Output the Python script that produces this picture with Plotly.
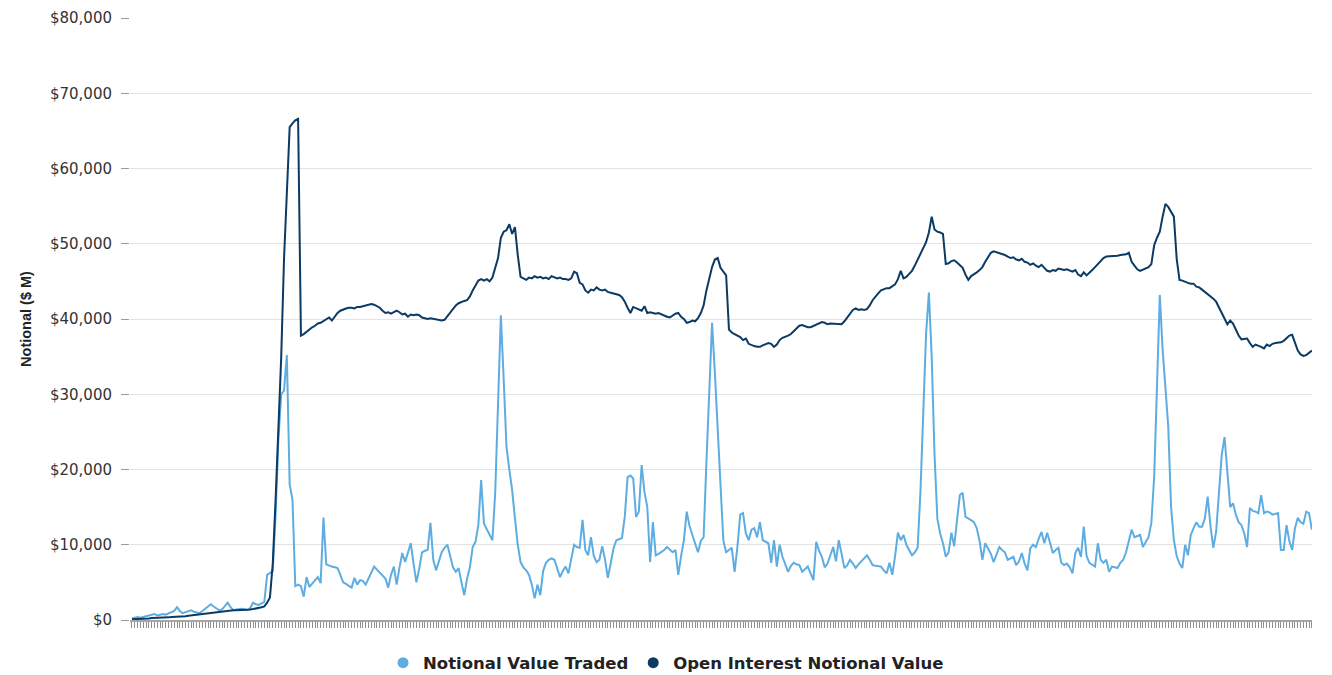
import plotly.graph_objects as go

# Weekly notional value traded ($ M)
traded = [
    200, 300, 400, 300, 400, 500, 500, 700, 800, 600,
    700, 800, 700, 900, 1000, 1200, 1700, 1200, 900, 1000,
    1100, 1300, 1100, 1000, 900, 1200, 1500, 1800, 2100, 1800,
    1500, 1300, 1400, 1800, 2300, 1700, 1300, 1400, 1500, 1500,
    1400, 1300, 1600, 2300, 2100, 2000, 2200, 2400, 6000, 6300,
    6500, 14000, 24000, 30000, 30500, 35200, 18000, 16000, 4500, 4700,
    4500, 3100, 5700, 4400, 4800, 5300, 5700, 4900, 13600, 7400,
    7200, 7100, 7000, 6900, 6000, 5000, 4800, 4600, 4300, 5600,
    4700, 5300, 5200, 4700, 5500, 6300, 7100, 6700, 6300, 6000,
    5500, 4300, 6000, 7100, 4700, 7000, 8900, 7700, 9000, 10200,
    7500, 5000, 6800, 9000, 9200, 9300, 12900, 8000, 6600, 7800,
    9000, 9600, 10000, 8500, 7000, 6400, 6900, 5000, 3300, 5500,
    7000, 9700, 10400, 12600, 18600, 12800, 12000, 11200, 10600, 17000,
    28000, 40500, 32000, 23000, 20000, 17300, 13500, 10000, 7700, 7000,
    6600, 6000, 4700, 2900, 4700, 3300, 6500, 7600, 8000, 8200,
    8000, 6800, 5700, 6500, 7100, 6200, 8000, 10000, 9700, 9600,
    13300, 9300, 8600, 11000, 8500, 7700, 8000, 9800, 8000, 5600,
    7500, 9500, 10600, 10700, 10900, 13700, 19000, 19200, 18800, 13700,
    14400, 20600, 17000, 15000, 7700, 13000, 8600, 8800, 9000, 9300,
    9700, 9300, 9000, 9300, 6000, 8500, 10600, 14400, 12500, 11300,
    10000, 9000, 10500, 11000, 21000, 31500, 39500, 32800, 25000, 17000,
    10600, 9000, 9300, 9600, 6400, 9700, 14000, 14200, 11500, 10600,
    12000, 12200, 11000, 13000, 10600, 10400, 10200, 7600, 10600, 7100,
    10000, 8400, 7500, 6400, 7200, 7600, 7400, 7300, 6400, 6800,
    7100, 6200, 5300, 10400, 9200, 8400, 7000, 7500, 8500, 9700,
    7800, 10600, 8800, 6900, 7300, 8000, 7500, 6900, 7400, 7800,
    8200, 8600, 8000, 7300, 7200, 7100, 7100, 6600, 6200, 7600,
    6000, 8500, 11600, 10600, 11300, 10000, 9300, 8600, 9000, 9600,
    17000, 28000, 38000, 43500, 35000, 22000, 13500, 11500, 10200, 8400,
    9000, 11600, 9800, 13300, 16600, 16900, 13700, 13500, 13200, 13000,
    12200, 10500, 8000, 10200, 9500, 8800, 7700, 8600, 9700, 9300,
    9000, 8000, 8200, 8400, 7300, 7800, 8900, 7500, 6600, 9500,
    10000, 9700, 10800, 11700, 10200, 11600, 10300, 8900, 9300, 9600,
    7600, 7300, 7500, 7000, 6200, 8900, 9600, 8400, 12400, 8500,
    7600, 7400, 7100, 10200, 8000, 7600, 8000, 6400, 7100, 7000,
    6900, 7600, 8000, 9000, 10500, 12000, 11000, 11200, 11300, 9700,
    10400, 11000, 12900, 19000, 31000, 43200, 36000, 30200, 25700, 15000,
    10600, 8500, 7500, 6900, 10000, 8600, 11300, 12200, 13000, 12400,
    12400, 13500, 16400, 12500, 9600, 11700, 17000, 22000, 24300, 19000,
    15000, 15500, 14000, 13000, 12600, 11500, 9700, 14900, 14500, 14400,
    14200, 16600, 14200, 14400, 14300, 14000, 14100, 14200, 9300, 9300,
    12600, 10500, 9300, 12200, 13600, 13000, 12800, 14400, 14200, 12000,
]

# Weekly open interest notional value ($ M)
open_interest = [
    100, 100, 150, 150, 200, 200, 200, 250, 250, 300,
    300, 300, 350, 350, 400, 400, 400, 450, 500, 500,
    550, 600, 650, 700, 750, 800, 900, 950, 1000, 1000,
    1050, 1100, 1100, 1150, 1200, 1250, 1300, 1300, 1300, 1350,
    1400, 1400, 1400, 1450, 1500, 1600, 1700, 1800, 2300, 3000,
    7500, 16000, 26000, 35000, 48000, 58000, 65500, 66000, 66400, 66600,
    37800, 38000, 38300, 38700, 38900, 39100, 39400, 39500, 39700, 39900,
    40200, 39800, 40300, 40800, 41100, 41300, 41400, 41500, 41500, 41400,
    41600, 41600, 41700, 41700, 41900, 42000, 41900, 41700, 41500, 41100,
    40800, 40900, 40700, 40900, 41100, 40900, 40600, 40700, 40300, 40600,
    40500, 40600, 40500, 40200, 40100, 40000, 40100, 40000, 40000, 39900,
    39800, 39900, 40400, 40900, 41300, 41800, 42100, 42300, 42400, 42500,
    43000, 43800, 44500, 45100, 45300, 45100, 45300, 45000, 45500, 46700,
    48100, 50800, 51600, 51800, 52600, 51300, 52200, 48500, 45600, 45400,
    45200, 45500, 45400, 45700, 45500, 45600, 45400, 45500, 45300, 45700,
    45600, 45400, 45500, 45300, 45300, 45200, 45400, 46300, 46100, 44800,
    44600, 43800, 43500, 43900, 43800, 44200, 43900, 43800, 43900, 43600,
    43500, 43400, 43300, 43200, 42900, 42300, 41500, 40800, 41600, 41400,
    41200, 41100, 41700, 40800, 40900, 40800, 40700, 40800, 40600, 40400,
    40300, 40200, 40500, 40700, 40800, 40300, 40000, 39500, 39600, 39800,
    39700, 40100, 40800, 41800, 43800, 45500, 46900, 47900, 48100, 46800,
    46300, 45800, 38600, 38200, 38000, 37800, 37600, 37200, 37400, 36700,
    36500, 36400, 36300, 36300, 36500, 36600, 36800, 36700, 36300, 36600,
    37200, 37500, 37600, 37800, 38000, 38400, 38800, 39100, 39200, 39000,
    38900, 38900, 39100, 39300, 39400, 39600, 39500, 39300, 39400, 39400,
    39300, 39400, 39300, 39700, 40200, 40700, 41200, 41400, 41200, 41300,
    41200, 41300, 41800, 42500, 43000, 43400, 43800, 44000, 44100, 44100,
    44300, 44600, 45300, 46400, 45400, 45600, 46000, 46400, 47100, 47900,
    48600, 49300, 50200, 51500, 53600, 51900, 51600, 51500, 51300, 47300,
    47400, 47700, 47800, 47500, 47200, 46800, 45900, 45200, 45700, 45900,
    46200, 46500, 46900, 47600, 48300, 48800, 49000, 48900, 48800, 48700,
    48500, 48300, 48100, 48200, 47900, 47800, 48000, 47600, 47500, 47200,
    47400, 47100, 46900, 47200, 46800, 46400, 46300, 46500, 46400, 46700,
    46600, 46500, 46600, 46400, 46300, 46500, 45900, 45700, 46200, 45800,
    46100, 46500, 46900, 47300, 47700, 48100, 48300, 48300, 48300, 48400,
    48400, 48500, 48500, 48600, 48800, 47600, 47100, 46600, 46400, 46600,
    46700, 46900, 47300, 49800, 50800, 51600, 53600, 55300, 54900, 54300,
    53600, 48000, 45200, 45100, 44900, 44800, 44700, 44700, 44300, 44200,
    43900, 43600, 43400, 43100, 42700, 42300, 41500, 40800, 40000, 39300,
    39800, 39400, 38600, 37800, 37300, 37300, 37400, 36800, 36300, 36600,
    36500, 36300, 36100, 36600, 36400, 36700, 36800, 36800, 36900, 37100,
    37400, 37800, 37900, 36900, 35800, 35300, 35100, 35200, 35500, 35800,
]

weeks = list(range(len(traded)))
y_ticks = [0, 10000, 20000, 30000, 40000, 50000, 60000, 70000, 80000]
y_tick_text = ["$" + f"{v:,}" for v in y_ticks]

LIGHT = "#5DADE2"
DARK = "#0B3A64"

fig = go.Figure()
fig.add_trace(go.Scatter(x=weeks, y=traded, mode="lines", name="Notional Value Traded",
                         line=dict(color=LIGHT, width=2), showlegend=False))
fig.add_trace(go.Scatter(x=weeks, y=open_interest, mode="lines", name="Open Interest Notional Value",
                         line=dict(color=DARK, width=2), showlegend=False))
# legend entries with round markers
fig.add_trace(go.Scatter(x=[None], y=[None], mode="markers", name="Notional Value Traded",
                         marker=dict(color=LIGHT, size=11)))
fig.add_trace(go.Scatter(x=[None], y=[None], mode="markers", name="Open Interest Notional Value",
                         marker=dict(color=DARK, size=11)))

# page body has an 8px margin: figure starts at (8, 8) in the window
fig.update_layout(
    width=1324, height=667,
    margin=dict(l=122, r=20, t=10, b=55, autoexpand=False),
    paper_bgcolor="white", plot_bgcolor="white",
    font=dict(family="DejaVu Sans, sans-serif", size=15, color="#333333"),
    legend=dict(orientation="h", x=0.4535, xanchor="center", y=-0.0714, yanchor="middle",
                font=dict(family="DejaVu Sans, sans-serif", size=16.5, color="#222222", weight="bold"),
                itemwidth=30, tracegroupgap=0),
    xaxis=dict(range=[-0.7, len(traded) - 0.95], showgrid=False, zeroline=False,
               showline=True, linecolor="#a6a6a6", linewidth=1.5,
               ticks="outside", ticklen=6, tickwidth=1, tickcolor="#8f8f8f",
               tickmode="linear", tick0=0, dtick=1, showticklabels=False),
    yaxis=dict(range=[0, 80000], tickmode="array", tickvals=y_ticks, ticktext=y_tick_text,
               showgrid=True, gridcolor="#e3e3e3",
               zeroline=False, showline=False, ticks="outside", ticklen=8,
               tickcolor="#9a9a9a", ticklabelstandoff=6,
               tickfont=dict(family="DejaVu Sans, sans-serif", size=15, color="#333333"),
               title=dict(text="Notional ($ M)", standoff=14,
                          font=dict(family="Liberation Sans, Arial, sans-serif", size=14.5,
                                    color="#222222", weight="bold"))),
)

fig.write_html("out.html")
